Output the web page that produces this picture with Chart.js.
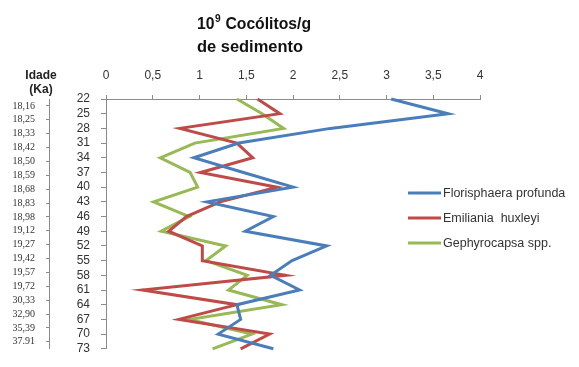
<!DOCTYPE html>
<html>
<head>
<meta charset="utf-8">
<script src="https://cdn.jsdelivr.net/npm/chart.js@4"></script>
<style>
  html, body { margin: 0; padding: 0; background: #fff; }
  #wrap { width: 579px; height: 367px; }
</style>
</head>
<body>
<div id="wrap"><canvas id="c" width="579" height="367"></canvas></div>
<script>
// ---- data ----
const depths = ['22','25','28','31','34','37','40','43','46','49','52','55','58','61','64','67','70','73'];
const ages = ['18,16','18,25','18,33','18,42','18,50','18,59','18,68','18,83','18,98','19,12','19,27','19,42','19,57','19,72','30,33','32,90','35,39','37.91'];
const xTicks = [0, 0.5, 1, 1.5, 2, 2.5, 3, 3.5, 4];
const florisphaera = [3.05,3.66,2.40,1.42,0.94,1.47,2.00,1.08,1.79,1.49,2.36,1.99,1.76,2.07,1.40,1.44,1.20,1.79];
const emiliania   = [1.62,1.86,0.79,1.40,1.57,1.01,1.83,1.22,0.86,0.67,1.03,1.03,1.92,0.39,1.40,0.78,1.75,1.44];
const gephyrocapsa = [1.40,1.67,1.90,0.95,0.58,0.90,0.98,0.51,0.89,0.59,1.28,1.07,1.51,1.31,1.88,0.89,1.56,1.14];
const seriesNames = ['Florisphaera profunda', 'Emiliania  huxleyi', 'Gephyrocapsa spp.'];
const seriesColors = ['#4A7EBB', '#BE4B48', '#98B954'];

const axisGray = '#8c8c8c';
const textCol = '#333333';

const titlePlugin = {
  id: 'customText',
  afterDraw(chart) {
    const ctx = chart.ctx;
    ctx.save();
    ctx.fillStyle = '#111';
    // title line 1 with superscript
    const x0 = 197;
    const big = 'bold 17px "Liberation Sans", Arial, sans-serif';
    const sup = 'bold 11px "Liberation Sans", Arial, sans-serif';
    ctx.textBaseline = 'alphabetic';
    ctx.textAlign = 'left';
    ctx.font = big;
    const w1a = ctx.measureText('10').width;
    ctx.font = sup;
    const w1b = ctx.measureText('9').width;
    ctx.font = big;
    const w1c = ctx.measureText(' Cocólitos/g').width;
    const total1 = w1a + w1b + 1 + w1c;
    const sx1 = 114 / total1;
    ctx.save();
    ctx.translate(x0, 29);
    ctx.scale(sx1, 1);
    ctx.font = big; ctx.fillText('10', 0, 0);
    ctx.font = sup; ctx.fillText('9', w1a + 0.5, -7);
    ctx.font = big; ctx.fillText(' Cocólitos/g', w1a + w1b + 1, 0);
    ctx.restore();
    ctx.font = big;
    const w2 = ctx.measureText('de sedimento').width;
    ctx.save();
    ctx.translate(x0, 52);
    ctx.scale(106 / w2, 1);
    ctx.fillText('de sedimento', 0, 0);
    ctx.restore();

    // Idade (Ka)
    ctx.font = 'bold 12px "Liberation Sans", Arial, sans-serif';
    ctx.textAlign = 'center';
    ctx.textBaseline = 'middle';
    ctx.fillStyle = '#222';
    ctx.fillText('Idade', 41, 75.5);
    ctx.fillText('(Ka)', 41, 89.5);

    // legend
    const ly = [193, 218, 243];
    ctx.font = '12.5px "Liberation Sans", Arial, sans-serif';
    ctx.textAlign = 'left';
    chart.data.datasets.forEach((ds, i) => {
      ctx.strokeStyle = ds.borderColor;
      ctx.lineWidth = 3;
      ctx.beginPath();
      ctx.moveTo(408, ly[i]);
      ctx.lineTo(441, ly[i]);
      ctx.stroke();
      ctx.fillStyle = textCol;
      ctx.fillText(ds.label, 443, ly[i] + 0.5);
    });
    ctx.restore();
  }
};

const mk = (label, data, color) => ({
  label, data,
  borderColor: color, backgroundColor: color,
  borderWidth: 3, pointRadius: 0, tension: 0, fill: false, clip: false,
  yAxisID: 'y', xAxisID: 'x'
});

new Chart(document.getElementById('c'), {
  type: 'line',
  data: {
    labels: depths,
    datasets: [
      mk(seriesNames[0], florisphaera, seriesColors[0]),
      mk(seriesNames[1], emiliania, seriesColors[1]),
      mk(seriesNames[2], gephyrocapsa, seriesColors[2])
    ]
  },
  options: {
    indexAxis: 'y',
    responsive: false,
    animation: false,
    devicePixelRatio: 1,
    layout: { padding: { left: 0, right: 99, top: 69, bottom: 5 } },
    plugins: { legend: { display: false }, tooltip: { enabled: false }, title: { display: false } },
    scales: {
      x: {
        type: 'linear', position: 'top', min: 0, max: 4,
        afterBuildTicks: s => { s.ticks = xTicks.map(v => ({ value: v })); },
        afterFit: s => { s.height = 30; },
        ticks: {
          color: textCol, padding: 12, maxRotation: 0, autoSkip: false,
          font: { size: 12, family: '"Liberation Sans", Arial, sans-serif' },
          callback: v => String(v).replace('.', ',')
        },
        grid: { drawOnChartArea: false, drawTicks: true, tickLength: 4, color: axisGray },
        border: { display: true, color: axisGray, width: 1 }
      },
      y: {
        type: 'category', position: 'left', offset: false, weight: 1,
        afterFit: s => { s.width = 57; },
        ticks: {
          color: textCol, padding: 11, autoSkip: false,
          font: { size: 12, family: '"Liberation Sans", Arial, sans-serif' }
        },
        grid: { drawOnChartArea: false, drawTicks: true, tickLength: 5, color: axisGray },
        border: { display: true, color: axisGray, width: 1 }
      },
      age: {
        type: 'category', labels: ages, position: 'left', offset: true, weight: 2,
        afterFit: s => { s.width = 49; },
        ticks: {
          color: textCol, padding: 11, autoSkip: false,
          font: { size: 10, family: '"Liberation Serif", "Times New Roman", serif' }
        },
        grid: { drawOnChartArea: false, drawTicks: true, tickLength: 3, color: axisGray },
        border: { display: true, color: axisGray, width: 1 }
      }
    }
  },
  plugins: [titlePlugin]
});
</script>
</body>
</html>
